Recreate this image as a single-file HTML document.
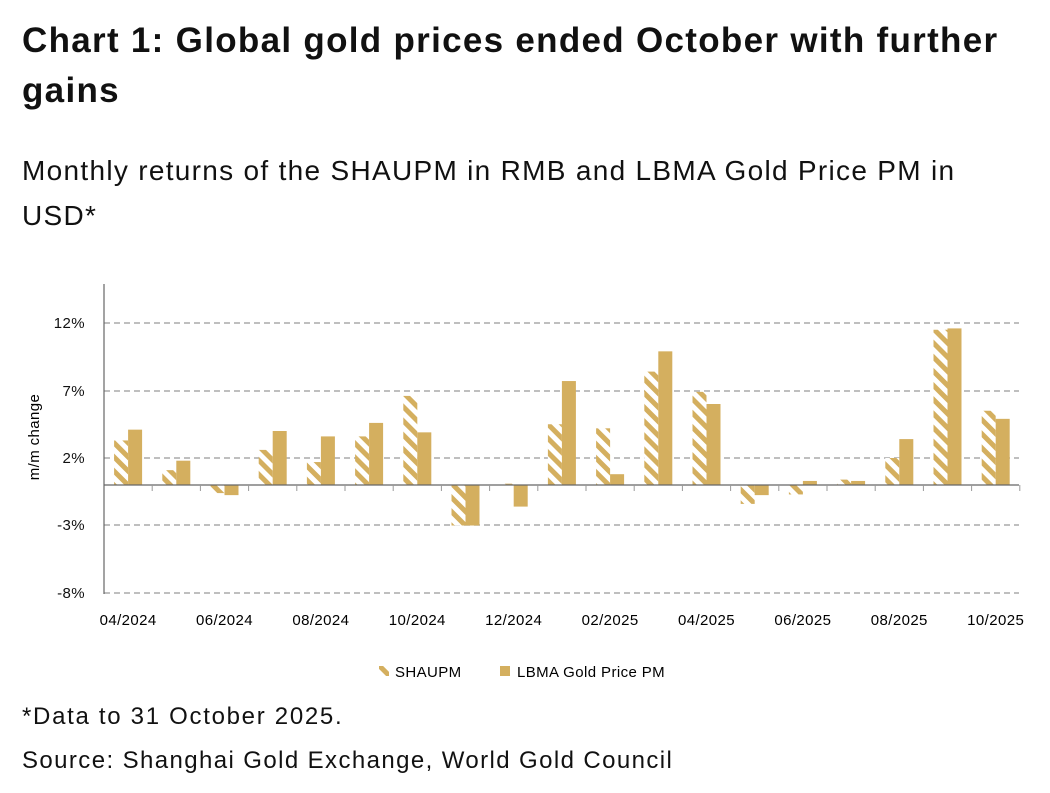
<!DOCTYPE html>
<html><head><meta charset="utf-8"><style>
body{margin:0;background:#fff;width:1050px;height:793px;overflow:hidden;font-family:"Liberation Sans",sans-serif;color:#111}
.t{position:absolute;left:22px;top:16px;font-size:35px;font-weight:bold;line-height:50px;width:1040px;letter-spacing:1.3px;white-space:nowrap}
.s{position:absolute;left:22px;top:148px;font-size:28px;line-height:45px;width:1040px;letter-spacing:1.3px;white-space:nowrap}
.f{position:absolute;left:22px;font-size:24px;white-space:nowrap}
svg text{letter-spacing:0.4px}
</style></head><body>
<div class="t">Chart 1: Global gold prices ended October with further<br>gains</div>
<div class="s">Monthly returns of the SHAUPM in RMB and LBMA Gold Price PM in<br>USD*</div>
<svg width="1050" height="793" style="position:absolute;left:0;top:0" id="c">
<defs><pattern id="h" width="10" height="10" patternUnits="userSpaceOnUse" patternTransform="rotate(45)">
<rect width="10" height="10" fill="#fff"/><rect width="10" height="5" fill="#D4AF5F"/></pattern></defs>
<g stroke="#aaa" stroke-width="1.5" stroke-dasharray="6,4">
<line x1="104" x2="1019" y1="323" y2="323"/><line x1="104" x2="1019" y1="391" y2="391"/>
<line x1="104" x2="1019" y1="458" y2="458"/><line x1="104" x2="1019" y1="525" y2="525"/>
<line x1="104" x2="1019" y1="593" y2="593"/></g>
<g font-size="15" text-anchor="end" fill="#111">
<text x="85" y="328">12%</text><text x="85" y="396">7%</text><text x="85" y="463">2%</text>
<text x="85" y="530">-3%</text><text x="85" y="598">-8%</text></g>
<text x="0" y="0" font-size="15" text-anchor="middle" transform="translate(39,437) rotate(-90)">m/m change</text>
<g id="bars"></g>
<line x1="104" x2="104" y1="284" y2="594" stroke="#666" stroke-width="1.2"/>
<line x1="104" x2="1019" y1="485" y2="485" stroke="#666" stroke-width="1.2"/>
<g id="tk" stroke="#999"></g>
<g font-size="15" text-anchor="middle" id="xl"></g>
<rect x="379" y="666" width="10" height="10" fill="url(#h)"/>
<text x="395" y="677" font-size="15">SHAUPM</text>
<rect x="500" y="666" width="10" height="10" fill="#D4AF5F"/>
<text x="517" y="677" font-size="15">LBMA Gold Price PM</text>
</svg>
<div class="f" style="top:703px;letter-spacing:1.7px">*Data to 31 October 2025.</div>
<div class="f" style="top:747px;letter-spacing:1.4px">Source: Shanghai Gold Exchange, World Gold Council</div>
<script>
var sh=[3.3,1.1,-0.6,2.6,1.7,3.6,6.6,-3.0,0.1,4.5,4.2,8.4,6.9,-1.4,-0.7,0.4,2.0,11.5,5.5];
var lb=[4.1,1.8,-0.75,4.0,3.6,4.6,3.9,-3.0,-1.6,7.7,0.8,9.9,6.0,-0.75,0.3,0.3,3.4,11.6,4.9];
var w=48.2,b="";
function r(x,v,f){var y=485-v*13.5;var t=Math.min(y,485),h=Math.abs(485-y);return '<rect x="'+x+'" y="'+t+'" width="14" height="'+h+'" fill="'+f+'"/>';}
var labs=["04/2024","06/2024","08/2024","10/2024","12/2024","02/2025","04/2025","06/2025","08/2025","10/2025"];
var tk="",xl="";
for(var i=0;i<19;i++){var c=104+w*(i+0.5);b+=r(c-14,sh[i],"url(#h)")+r(c,lb[i],"#D4AF5F");
var bx=104+w*(i+1);tk+='<line x1="'+bx+'" x2="'+bx+'" y1="485" y2="491"/>';
if(i%2==0)xl+='<text x="'+c+'" y="625">'+labs[i/2]+'</text>';}
document.getElementById("bars").innerHTML=b;document.getElementById("tk").innerHTML=tk;document.getElementById("xl").innerHTML=xl;
</script>
</body></html>
